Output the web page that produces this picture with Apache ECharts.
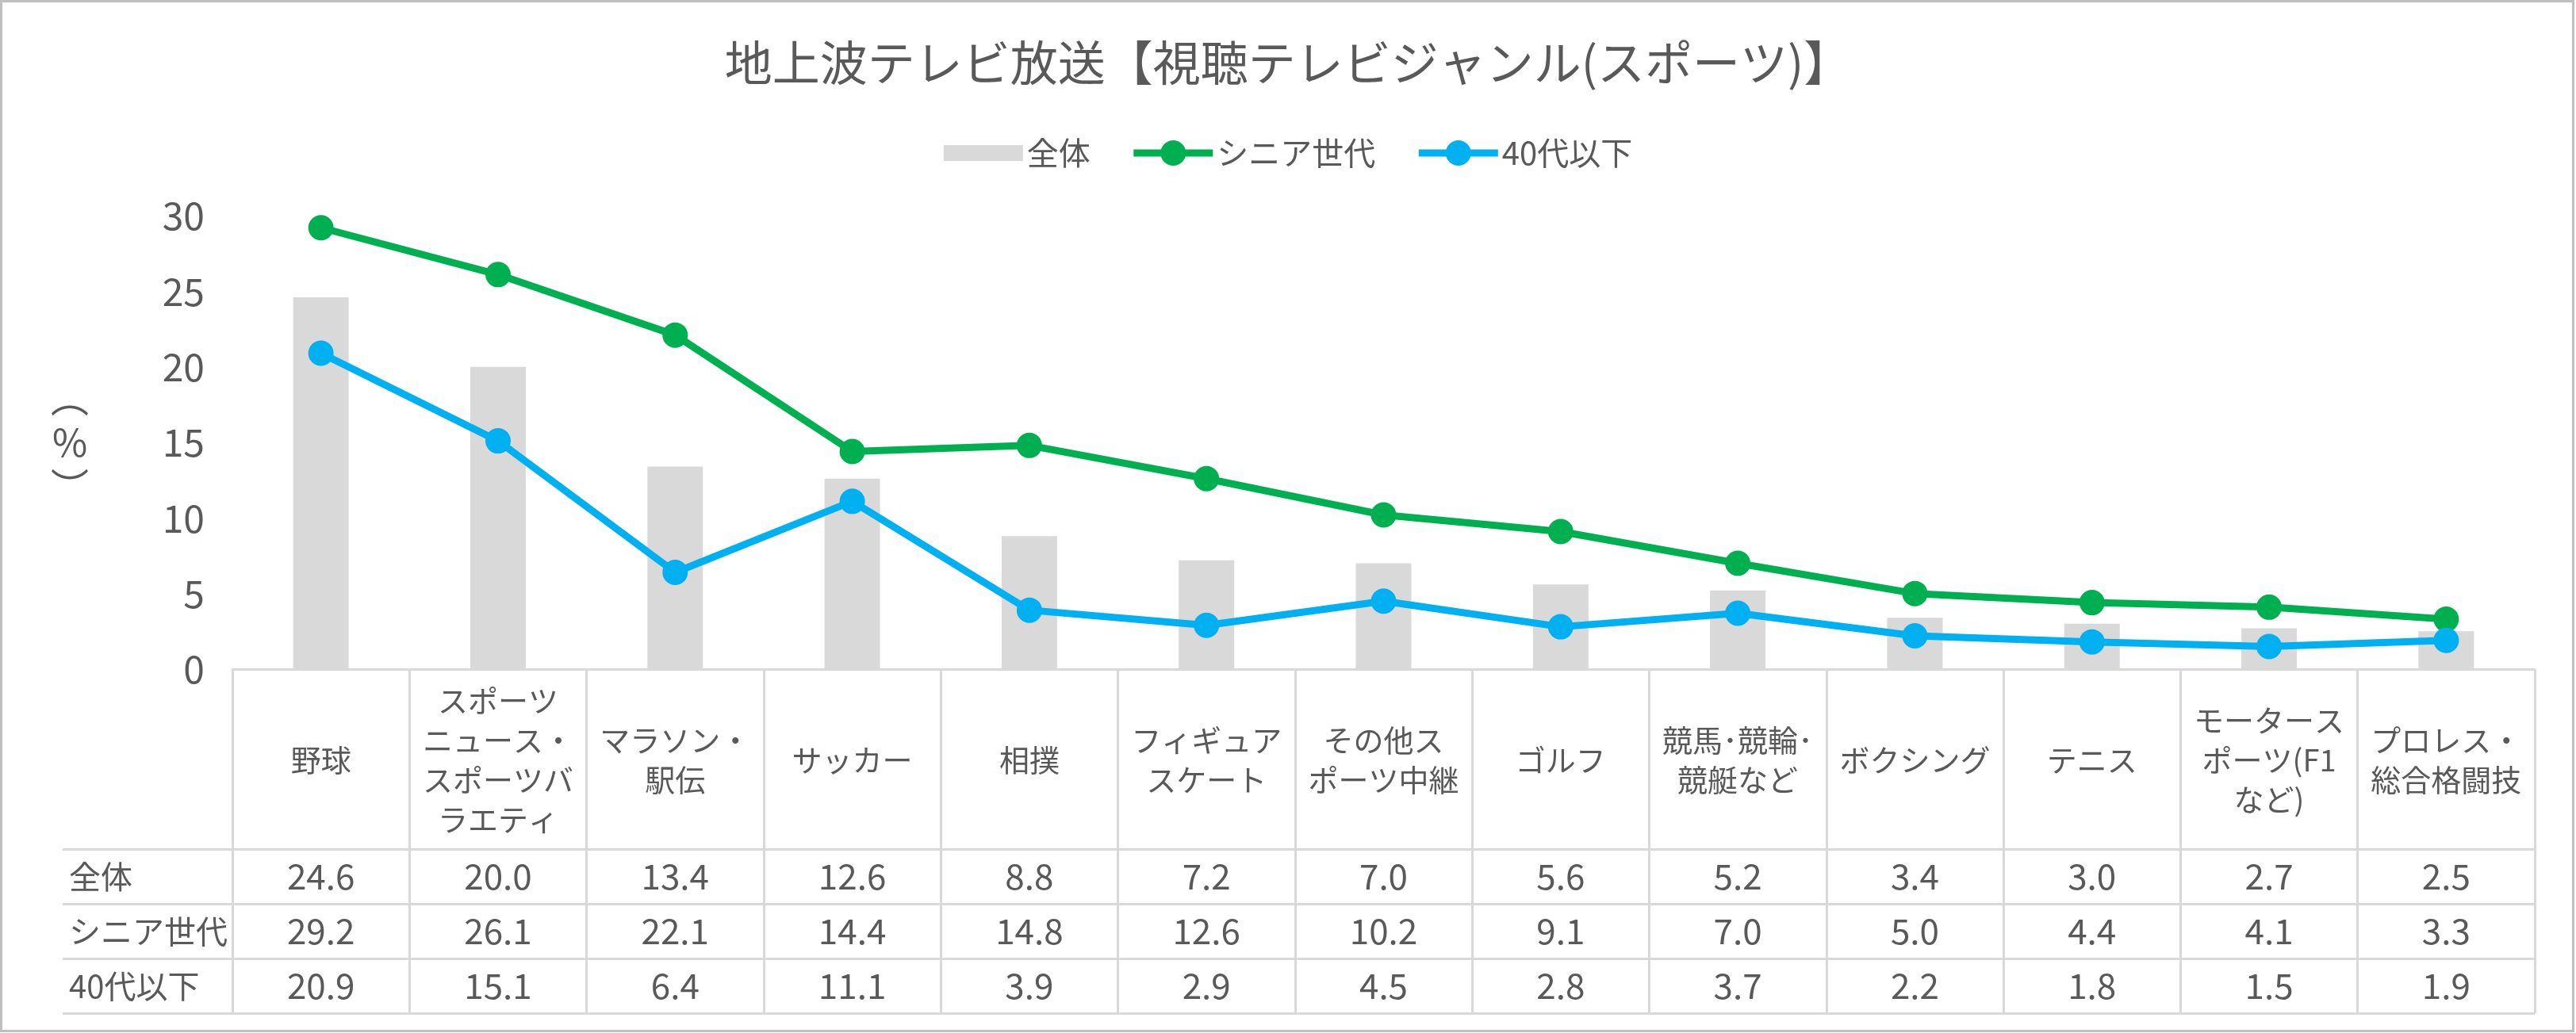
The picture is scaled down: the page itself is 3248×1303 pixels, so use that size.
<!DOCTYPE html>
<html>
<head>
<meta charset="utf-8">
<title>地上波テレビ放送【視聴テレビジャンル(スポーツ)】</title>
<script src="https://cdn.jsdelivr.net/npm/echarts@6/dist/echarts.min.js"></script>
<style>
  html, body { margin: 0; padding: 0; background: #fff; }
  #chart { width: 3248px; height: 1303px; }
  #frame {
    position: absolute; left: 0; top: 0; width: 3246px; height: 1302px;
    box-sizing: border-box; border: 3px solid #c0c0c0; pointer-events: none;
  }
</style>
</head>
<body>
<div id="chart"></div>
<div id="frame"></div>
<script>
// ジャンル（表の見出しは元の折り返しどおり）
const categories = [
  "野球",
  "スポーツ\nニュース・\nスポーツバ\nラエティ",
  "マラソン・\n駅伝",
  "サッカー",
  "相撲",
  "フィギュア\nスケート",
  "その他ス\nポーツ中継",
  "ゴルフ",
  "競馬･競輪･\n競艇など",
  "ボクシング",
  "テニス",
  "モータース\nポーツ(F1\nなど)",
  "プロレス・\n総合格闘技"
];
const seriesNames = ["全体", "シニア世代", "40代以下"];
const allValues = [24.6, 20.0, 13.4, 12.6, 8.8, 7.2, 7.0, 5.6, 5.2, 3.4, 3.0, 2.7, 2.5];
const seniorValues = [29.2, 26.1, 22.1, 14.4, 14.8, 12.6, 10.2, 9.1, 7.0, 5.0, 4.4, 4.1, 3.3];
const under40Values = [20.9, 15.1, 6.4, 11.1, 3.9, 2.9, 4.5, 2.8, 3.7, 2.2, 1.8, 1.5, 1.9];
const yTicks = { min: 0, max: 30, interval: 5 };

const FONT = '"Noto Sans CJK JP", "Noto Sans", sans-serif';
const TEXT = "#595959";
const GRID_LINE = { color: "#d9d9d9", width: 3 };
const GREEN = "#00b050";
const BLUE = "#00b0f0";

// 表のセル [列, 行, 値]
const tableRows = [allValues, seniorValues, under40Values];
const tableCells = [];
tableRows.forEach((row, r) => {
  row.forEach((v, c) => tableCells.push([c, r, v]));
});

const chart = echarts.init(document.getElementById("chart"));

chart.setOption({
  animation: false,
  textStyle: { fontFamily: FONT },
  title: {
    text: "地上波テレビ放送【視聴テレビジャンル(スポーツ)】",
    left: "center",
    top: 44,
    textStyle: { fontFamily: FONT, fontSize: 60, fontWeight: "normal", color: TEXT }
  },
  legend: {
    left: "center",
    top: 168,
    itemWidth: 100,
    itemHeight: 40,
    itemGap: 50,
    textStyle: { fontFamily: FONT, fontSize: 40, color: TEXT },
    data: [
      { name: seriesNames[0], icon: "path://M0 0H100V20H0Z" },
      { name: seriesNames[1], lineStyle: { width: 9, color: GREEN } },
      { name: seriesNames[2], lineStyle: { width: 9, color: BLUE } }
    ]
  },
  grid: [
    { left: 293, right: 52, top: 272, height: 572 },
    { left: 293, right: 52, top: 1071, height: 207 }
  ],
  xAxis: [
    {
      type: "category",
      gridIndex: 0,
      data: categories,
      axisLine: { lineStyle: GRID_LINE },
      axisTick: { show: true, length: 227, lineStyle: GRID_LINE },
      axisLabel: {
        interval: 0,
        margin: 115,
        verticalAlign: "middle",
        fontFamily: FONT,
        fontSize: 38,
        lineHeight: 50,
        color: TEXT
      },
      splitLine: { show: false }
    },
    {
      type: "category",
      gridIndex: 1,
      data: categories,
      axisLine: { show: false },
      axisTick: { show: false },
      axisLabel: { show: false },
      splitLine: { show: true, interval: 0, lineStyle: GRID_LINE }
    }
  ],
  yAxis: [
    {
      type: "value",
      gridIndex: 0,
      min: yTicks.min,
      max: yTicks.max,
      interval: yTicks.interval,
      axisLine: { show: false },
      axisTick: { show: false },
      splitLine: { show: false },
      axisLabel: { margin: 35, fontFamily: FONT, fontSize: 48, color: TEXT },
      name: "︵\n%\n︶",
      nameLocation: "middle",
      nameRotate: 0,
      nameGap: 205,
      nameTextStyle: {
        fontFamily: FONT, fontSize: 48, lineHeight: 56, color: TEXT,
        align: "center", verticalAlign: "middle"
      }
    },
    {
      type: "category",
      gridIndex: 1,
      inverse: true,
      data: seriesNames,
      axisLine: { show: true, lineStyle: GRID_LINE },
      axisTick: { show: true, length: 214, lineStyle: GRID_LINE },
      axisLabel: { align: "left", margin: 206, fontFamily: FONT, fontSize: 40, color: TEXT },
      splitLine: { show: true, interval: 0, lineStyle: GRID_LINE }
    },
    {
      // 行見出し列の左の枠線
      type: "category",
      gridIndex: 1,
      inverse: true,
      data: seriesNames,
      offset: 214,
      axisLine: { show: true, lineStyle: GRID_LINE },
      axisTick: { show: false },
      axisLabel: { show: false },
      splitLine: { show: false }
    }
  ],
  series: [
    {
      name: seriesNames[0],
      type: "bar",
      xAxisIndex: 0,
      yAxisIndex: 0,
      data: allValues,
      barWidth: 70,
      itemStyle: { color: "#d9d9d9" },
      z: 1
    },
    {
      name: seriesNames[1],
      type: "line",
      xAxisIndex: 0,
      yAxisIndex: 0,
      data: seniorValues,
      symbol: "circle",
      symbolSize: 32,
      lineStyle: { width: 9, color: GREEN },
      itemStyle: { color: GREEN },
      z: 3
    },
    {
      name: seriesNames[2],
      type: "line",
      xAxisIndex: 0,
      yAxisIndex: 0,
      data: under40Values,
      symbol: "circle",
      symbolSize: 32,
      lineStyle: { width: 9, color: BLUE },
      itemStyle: { color: BLUE },
      z: 4
    },
    {
      type: "custom",
      xAxisIndex: 1,
      yAxisIndex: 1,
      silent: true,
      data: tableCells,
      encode: { x: 0, y: 1 },
      renderItem: function (params, api) {
        const p = api.coord([api.value(0), api.value(1)]);
        return {
          type: "text",
          x: p[0],
          y: p[1],
          style: {
            text: api.value(2).toFixed(1),
            align: "center",
            verticalAlign: "middle",
            fontFamily: FONT,
            fontSize: 44,
            fill: TEXT
          }
        };
      }
    }
  ]
});
</script>
</body>
</html>
